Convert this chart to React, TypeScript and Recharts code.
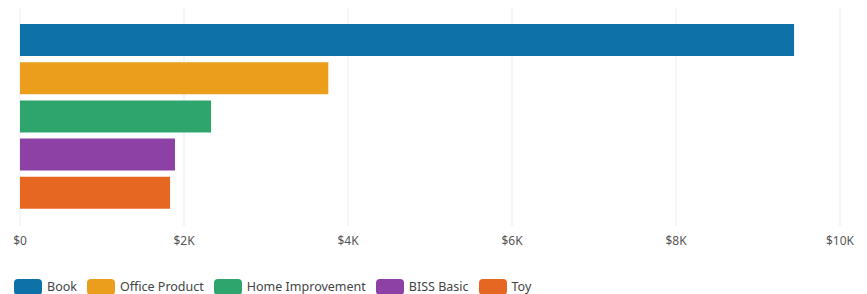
import { BarChart, Bar, XAxis, YAxis, CartesianGrid, Cell } from "recharts";

const categories = ["Book", "Office Product", "Home Improvement", "BISS Basic", "Toy"];
const sales = [9440, 3760, 2330, 1890, 1830];
const colors = ["#0e71a8", "#eb9e1c", "#2ea56c", "#8e41a5", "#e66722"];
const xTicks = [0, 2000, 4000, 6000, 8000, 10000];

const data = categories.map((name, i) => ({ name, value: sales[i] }));

const fmt = (v: number) => (v === 0 ? "$0" : `$${v / 1000}K`);

function LegendRow() {
  return (
    <div
      style={{
        position: "absolute",
        left: 14,
        top: 278,
        display: "flex",
        alignItems: "center",
        fontFamily: "'Noto Sans', sans-serif",
        fontSize: 12.5,
        color: "#444",
      }}
    >
      {categories.map((c, i) => (
        <div key={c} style={{ display: "flex", alignItems: "center", marginRight: 10 }}>
          <span
            style={{
              display: "inline-block",
              width: 28,
              height: 16,
              borderRadius: 4,
              background: colors[i],
              marginRight: 5,
            }}
          />
          <span>{c}</span>
        </div>
      ))}
    </div>
  );
}

export default function App() {
  return (
    <div style={{ position: "absolute", left: 0, top: 0, width: 867, height: 294, background: "#fff", overflow: "hidden" }}>
      <BarChart
        width={867}
        height={260}
        data={data}
        layout="vertical"
        margin={{ top: 8, right: 27, bottom: 4, left: 20 }}
      >
        <CartesianGrid horizontal={false} stroke="#e8ebf0" />
        <XAxis
          type="number"
          domain={[0, 10000]}
          ticks={xTicks}
          tickFormatter={fmt}
          axisLine={false}
          tickLine={false}
          tickMargin={4}
          height={30}
          tick={{ fontSize: 12, fill: "#555", fontFamily: "'Noto Sans', sans-serif" }}
        />
        <YAxis type="category" dataKey="name" hide width={0} padding={{ top: 13, bottom: 14 }} />
        <Bar dataKey="value" barSize={32} isAnimationActive={false}>
          {data.map((d, i) => (
            <Cell key={d.name} fill={colors[i]} />
          ))}
        </Bar>
      </BarChart>
      <LegendRow />
    </div>
  );
}
